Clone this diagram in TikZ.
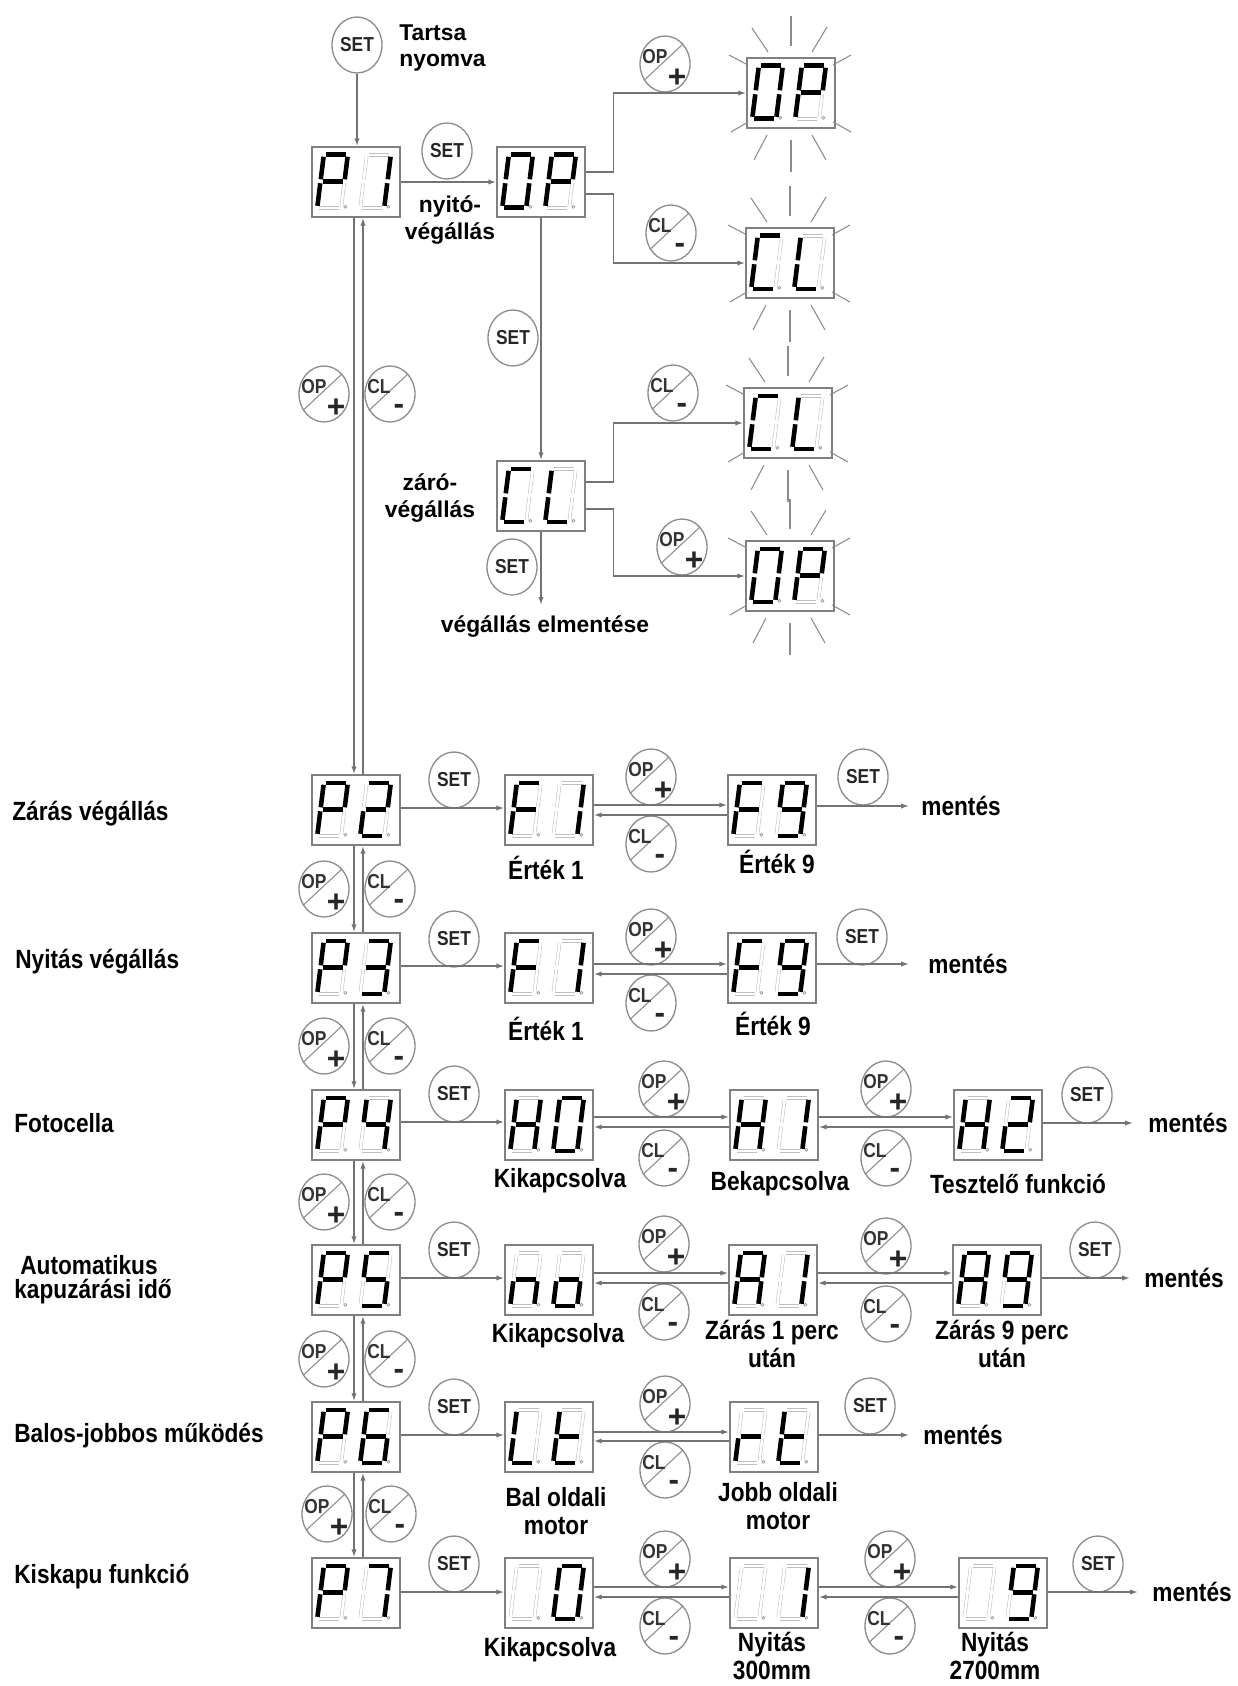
\documentclass[tikz,border=0pt]{standalone}
\usepackage{fontspec}
\setmainfont{Liberation Sans}
\newfontfamily\condfont{Liberation Sans}[FakeStretch=0.86]
\usetikzlibrary{shapes.geometric,arrows.meta,calc}

\def\sgpa{2/53/22/53}
\def\sgpb{24/51/24/28.5}
\def\sgpc{24/24.5/24/2}
\def\sgpd{2/0/22/0}
\def\sgpe{0/2/0/24.5}
\def\sgpf{0/28.5/0/51}
\def\sgpg{2/26.5/22/26.5}
\def\drawsegon#1/#2/#3/#4\relax{\draw[segonst] (#1,#2) -- (#3,#4);}
\def\drawsegoff#1/#2/#3/#4\relax{\draw[segoffst] (#1,#2) -- (#3,#4);}
\newcommand\sdig[2]{%
  \begin{scope}[shift={(#1,10)},xslant=0.125]
    \foreach \s in {a,b,c,d,e,f,g}{\edef\tmpseg{\csname sgp\s\endcsname}\expandafter\drawsegoff\tmpseg\relax}%
    \def\tmplist{#2}%
    \ifx\tmplist\empty\else
      \foreach \s in {#2}{\edef\tmpseg{\csname sgp\s\endcsname}\expandafter\drawsegon\tmpseg\relax}%
    \fi
    \draw[dotst] (28,1) circle (1.5);
  \end{scope}}
\newcommand\twodig[3]{%
  \begin{scope}[shift={(#1.south west)},x=0.02cm,y=0.02cm]
    \sdig{6}{#2}\sdig{49}{#3}
  \end{scope}}
\newcommand\rays[1]{%
  \begin{scope}[shift={(#1.center)}]
    \foreach \ra/\rb/\rc/\rd in {0/-77/0/-47, -39/-65/-23/-41, 36/-66/21/-41, -62/-38/-43/-28, 60/-38/42/-28, -60/39/-43/29, 60/39/42/29, -37/67/-24/42, 35/67/21/42, 0/47/0/79}{\draw[ray] (\ra,\rb) -- (\rc,\rd);}
  \end{scope}}
\newcommand\opbtn[3]{%
  \node[btn] (#1) at (#2,#3) {};
  \draw[btnline] (#1.218) -- (#1.48);
  \node[optxt] (#1-t) at ($(#1.center)+(-10,-7)$) {OP};
  \node[signtxt] (#1-s) at ($(#1.center)+(12,14)$) {+};}
\newcommand\clbtn[3]{%
  \node[btn] (#1) at (#2,#3) {};
  \draw[btnline] (#1.218) -- (#1.48);
  \node[optxt] (#1-t) at ($(#1.center)+(-11,-7)$) {CL};
  \node[signtxt] (#1-s) at ($(#1.center)+(9,15)$) {-};}

\begin{document}
\begin{tikzpicture}[x=0.02cm,y=-0.02cm,
  conn/.style={draw=black!55, line width=0.8pt},
  arr/.style={conn, -{Latex[length=4.5pt,width=3pt]}},
  dispbox/.style={draw=black!50, line width=0.9pt, minimum width=1.76cm, minimum height=1.4cm, inner sep=0pt},
  btn/.style={ellipse, draw=black!45, line width=0.75pt, minimum width=1.0cm, minimum height=1.12cm, inner sep=0pt},
  setbtn/.style={btn, font=\condfont\bfseries\fontsize{11.5}{11.5}\selectfont, text=black!85},
  btnline/.style={draw=black!45, line width=0.6pt},
  optxt/.style={inner sep=0pt, font=\condfont\bfseries\fontsize{11.5}{11.5}\selectfont, text=black!80},
  signtxt/.style={inner sep=0pt, font=\bfseries\fontsize{18}{18}\selectfont, text=black!85},
  lbl/.style={font=\condfont\bfseries\fontsize{15}{16}\selectfont, inner sep=0pt, align=center},
  toplbl/.style={font=\bfseries\fontsize{13}{15}\selectfont, inner sep=0pt, align=center},
  segoffst/.style={draw=black!25, line width=0.3pt, double=white, double distance=1.4pt},
  segonst/.style={draw=black, line width=2.6pt},
  dotst/.style={draw=black!40, line width=0.4pt},
  ray/.style={draw=black!45, line width=0.6pt}]
\fill[white] (0,0) rectangle (1237,1686);
\useasboundingbox (0,0) rectangle (1237,1686);

% ---------- top part ----------
\node[setbtn] (settop) at (357,45) {SET};
\node[toplbl, anchor=west, align=left] (tartsa) at (399,48) {Tartsa\\nyomva};
\node[dispbox] (p1) at (356,182) {};
\node[setbtn] (set1) at (447,151) {SET};
\node[toplbl] (nyito) at (450,220) {nyitó-\\végállás};
\node[dispbox] (op) at (541,182) {};
\opbtn{opplus1}{665}{64}
\node[dispbox] (opf1) at (791,93) {};
\clbtn{clminus1}{671}{233}
\node[dispbox] (clf1) at (790,263) {};
\node[setbtn] (set2) at (513,338) {SET};
\node[dispbox] (cl) at (541,496) {};
\node[toplbl] (zaro) at (430,498) {záró-\\végállás};
\clbtn{clminus2}{673}{393}
\node[dispbox] (clf2) at (788,423) {};
\opbtn{opplus2}{682}{547}
\node[dispbox] (opf2) at (790,576) {};
\node[setbtn] (set3) at (512,567) {SET};
\node[toplbl] (elment) at (545,627) {végállás elmentése};
\coordinate (elmend) at (541,605);

\twodig{p1}{a,b,e,f,g}{b,c}
\twodig{op}{a,b,c,d,e,f}{a,b,e,f,g}
\twodig{opf1}{a,b,c,d,e,f}{a,b,e,f,g}
\twodig{clf1}{a,d,e,f}{d,e,f}
\twodig{cl}{a,d,e,f}{d,e,f}
\twodig{clf2}{a,d,e,f}{d,e,f}
\twodig{opf2}{a,b,c,d,e,f}{a,b,e,f,g}
\rays{opf1}\rays{clf1}\rays{clf2}\rays{opf2}

\draw[arr] (settop.south) -- (settop.south |- p1.north);
\draw[arr] (p1.east) -- (op.west);
\draw[arr] ($(op.east)+(0,-10)$) -- ++(28,0) |- (opf1.west);
\draw[arr] ($(op.east)+(0,12)$) -- ++(28,0) |- (clf1.west);
\draw[arr] (op.south) -- (cl.north);
\draw[arr] ($(cl.east)+(0,-14)$) -- ++(28,0) |- (clf2.west);
\draw[arr] ($(cl.east)+(0,13)$) -- ++(28,0) |- (opf2.west);
\draw[arr] (cl.south) -- (elmend);

% ---------- left column ----------
\node[dispbox] (p2) at (356,810) {};
\node[dispbox] (p3) at (356,968) {};
\node[dispbox] (p4) at (356,1125) {};
\node[dispbox] (p5) at (356,1280) {};
\node[dispbox] (p6) at (356,1437) {};
\node[dispbox] (p7) at (356,1593) {};
\twodig{p2}{a,b,e,f,g}{a,b,g,e,d}
\twodig{p3}{a,b,e,f,g}{a,b,g,c,d}
\twodig{p4}{a,b,e,f,g}{f,g,b,c}
\twodig{p5}{a,b,e,f,g}{a,f,g,c,d}
\twodig{p6}{a,b,e,f,g}{a,f,g,e,d,c}
\twodig{p7}{a,b,e,f,g}{a,b,c}

\opbtn{opv1}{324}{394}\clbtn{clv1}{390}{394}
\opbtn{opv2}{324}{889}\clbtn{clv2}{390}{889}
\opbtn{opv3}{324}{1046}\clbtn{clv3}{390}{1046}
\opbtn{opv4}{324}{1202}\clbtn{clv4}{390}{1202}
\opbtn{opv5}{324}{1359}\clbtn{clv5}{390}{1359}
\opbtn{opv6}{327}{1514}\clbtn{clv6}{391}{1514}

\foreach \pa/\pb in {p1/p2,p2/p3,p3/p4,p4/p5,p5/p6,p6/p7}{
  \draw[arr] ($(\pa.south)+(-2,0)$) -- ($(\pb.north)+(-2,0)$);
  \draw[arr] ($(\pb.north)+(7,0)$) -- ($(\pa.south)+(7,0)$);
}

\node[lbl, anchor=west] (lzaras) at (12,814) {Zárás végállás};
\node[lbl, anchor=west] (lnyitas) at (15,962) {Nyitás végállás};
\node[lbl, anchor=west] (lfoto) at (14,1123) {Fotocella};
\node[lbl, anchor=west] (lauto1) at (20,1265) {Automatikus};
\node[lbl, anchor=west] (lauto2) at (14,1292) {kapuzárási idő};
\node[lbl, anchor=west] (lbalos) at (14,1436) {Balos-jobbos működés};
\node[lbl, anchor=west] (lkis) at (14,1577) {Kiskapu funkció};

% ---------- row P2 ----------
\node[setbtn] (setp2) at (454,780) {SET};
\node[dispbox] (f1a) at (549,810) {};
\node[lbl] (ert1a) at (546,868) {Érték 1};
\opbtn{opr2}{651}{777}\clbtn{clr2}{651}{844}
\node[dispbox] (f9a) at (772,810) {};
\node[lbl] (ert9a) at (777,862) {Érték 9};
\node[setbtn] (sete2) at (863,777) {SET};
\node[lbl, anchor=west] (ment2) at (921,806) {mentés};
\twodig{f1a}{a,e,f,g}{b,c}
\twodig{f9a}{a,e,f,g}{a,b,c,d,f,g}
\draw[arr] ($(p2.east)+(0,-2)$) -- ($(f1a.west)+(0,-2)$);
\draw[arr] ($(f1a.east)+(0,-5)$) -- ($(f9a.west)+(0,-5)$);
\draw[arr] ($(f9a.west)+(0,5)$) -- ($(f1a.east)+(0,5)$);
\draw[arr] ($(f9a.east)+(0,-4)$) -- ($(ment2.west)+(-12,0)$);

% ---------- row P3 ----------
\node[setbtn] (setp3) at (454,939) {SET};
\node[dispbox] (f1b) at (549,968) {};
\node[lbl] (ert1b) at (546,1029) {Érték 1};
\opbtn{opr3}{651}{937}\clbtn{clr3}{651}{1003}
\node[dispbox] (f9b) at (772,968) {};
\node[lbl] (ert9b) at (773,1024) {Érték 9};
\node[setbtn] (sete3) at (862,937) {SET};
\node[lbl, anchor=west] (ment3) at (928,964) {mentés};
\twodig{f1b}{a,e,f,g}{b,c}
\twodig{f9b}{a,e,f,g}{a,b,c,d,f,g}
\draw[arr] ($(p3.east)+(0,-2)$) -- ($(f1b.west)+(0,-2)$);
\draw[arr] ($(f1b.east)+(0,-4)$) -- ($(f9b.west)+(0,-4)$);
\draw[arr] ($(f9b.west)+(0,6)$) -- ($(f1b.east)+(0,6)$);
\draw[arr] ($(f9b.east)+(0,-4)$) -- ($(ment3.west)+(-19,0)$);

% ---------- row P4 ----------
\node[setbtn] (setp4) at (454,1094) {SET};
\node[dispbox] (h0) at (549,1125) {};
\node[lbl] (kik1) at (560,1181) {Kikapcsolva};
\opbtn{opr4a}{664}{1089}\clbtn{clr4a}{664}{1158}
\node[dispbox] (h1) at (774,1125) {};
\node[lbl] (bek) at (780,1184) {Bekapcsolva};
\opbtn{opr4b}{886}{1089}\clbtn{clr4b}{886}{1158}
\node[dispbox] (h2) at (998,1125) {};
\node[lbl] (teszt) at (1018,1184) {Tesztelő funkció};
\node[setbtn] (sete4) at (1087,1095) {SET};
\node[lbl, anchor=west] (ment4) at (1148,1123) {mentés};
\twodig{h0}{b,c,e,f,g}{a,b,c,d,e,f}
\twodig{h1}{b,c,e,f,g}{b,c}
\twodig{h2}{b,c,e,f,g}{a,b,g,e,d}
\draw[arr] ($(p4.east)+(0,-3)$) -- ($(h0.west)+(0,-3)$);
\draw[arr] ($(h0.east)+(0,-8)$) -- ($(h1.west)+(0,-8)$);
\draw[arr] ($(h1.west)+(0,2)$) -- ($(h0.east)+(0,2)$);
\draw[arr] ($(h1.east)+(0,-8)$) -- ($(h2.west)+(0,-8)$);
\draw[arr] ($(h2.west)+(0,2)$) -- ($(h1.east)+(0,2)$);
\draw[arr] ($(h2.east)+(0,-2)$) -- ($(ment4.west)+(-15,0)$);

% ---------- row P5 ----------
\node[setbtn] (setp5) at (454,1250) {SET};
\node[dispbox] (no) at (549,1280) {};
\node[lbl] (kik2) at (558,1336) {Kikapcsolva};
\opbtn{opr5a}{664}{1244}\clbtn{clr5a}{664}{1312}
\node[dispbox] (a1) at (773,1280) {};
\node[lbl] (zar1) at (772,1344) {Zárás 1 perc\\után};
\opbtn{opr5b}{886}{1246}\clbtn{clr5b}{886}{1314}
\node[dispbox] (a9) at (997,1280) {};
\node[lbl] (zar9) at (1002,1344) {Zárás 9 perc\\után};
\node[setbtn] (sete5) at (1095,1250) {SET};
\node[lbl, anchor=west] (ment5) at (1144,1278) {mentés};
\twodig{no}{c,e,g}{c,d,e,g}
\twodig{a1}{a,b,c,e,f,g}{b,c}
\twodig{a9}{a,b,c,e,f,g}{a,b,c,d,f,g}
\draw[arr] ($(p5.east)+(0,-2)$) -- ($(no.west)+(0,-2)$);
\draw[arr] ($(no.east)+(0,-7)$) -- ($(a1.west)+(0,-7)$);
\draw[arr] ($(a1.west)+(0,3)$) -- ($(no.east)+(0,3)$);
\draw[arr] ($(a1.east)+(0,-7)$) -- ($(a9.west)+(0,-7)$);
\draw[arr] ($(a9.west)+(0,3)$) -- ($(a1.east)+(0,3)$);
\draw[arr] ($(a9.east)+(0,-2)$) -- ($(ment5.west)+(-14,0)$);

% ---------- row P6 ----------
\node[setbtn] (setp6) at (454,1407) {SET};
\node[dispbox] (lt) at (549,1437) {};
\node[lbl] (bal) at (556,1511) {Bal oldali\\motor};
\opbtn{opr6}{665}{1404}\clbtn{clr6}{665}{1470}
\node[dispbox] (rt) at (774,1437) {};
\node[lbl] (jobb) at (778,1506) {Jobb oldali\\motor};
\node[setbtn] (sete6) at (870,1406) {SET};
\node[lbl, anchor=west] (ment6) at (923,1435) {mentés};
\twodig{lt}{d,e,f}{d,e,f,g}
\twodig{rt}{e,g}{d,e,f,g}
\draw[arr] ($(p6.east)+(0,-2)$) -- ($(lt.west)+(0,-2)$);
\draw[arr] ($(lt.east)+(0,-5)$) -- ($(rt.west)+(0,-5)$);
\draw[arr] ($(rt.west)+(0,4)$) -- ($(lt.east)+(0,4)$);
\draw[arr] ($(rt.east)+(0,-2)$) -- ($(ment6.west)+(-14,0)$);

% ---------- row P7 ----------
\node[setbtn] (setp7) at (454,1564) {SET};
\node[dispbox] (z0) at (549,1593) {};
\node[lbl] (kik3) at (550,1650) {Kikapcsolva};
\opbtn{opr7a}{665}{1559}\clbtn{clr7a}{665}{1626}
\node[dispbox] (z1) at (774,1593) {};
\node[lbl] (ny300) at (772,1656) {Nyitás\\300mm};
\opbtn{opr7b}{890}{1559}\clbtn{clr7b}{890}{1626}
\node[dispbox] (z9) at (1003,1593) {};
\node[lbl] (ny2700) at (995,1656) {Nyitás\\2700mm};
\node[setbtn] (sete7) at (1098,1564) {SET};
\node[lbl, anchor=west] (ment7) at (1152,1592) {mentés};
\twodig{z0}{}{a,b,c,d,e,f}
\twodig{z1}{}{b,c}
\twodig{z9}{}{a,b,c,d,f,g}
\draw[arr] ($(p7.east)+(0,-1)$) -- ($(z0.west)+(0,-1)$);
\draw[arr] ($(z0.east)+(0,-6)$) -- ($(z1.west)+(0,-6)$);
\draw[arr] ($(z1.west)+(0,4)$) -- ($(z0.east)+(0,4)$);
\draw[arr] ($(z1.east)+(0,-6)$) -- ($(z9.west)+(0,-6)$);
\draw[arr] ($(z9.west)+(0,4)$) -- ($(z1.east)+(0,4)$);
\draw[arr] ($(z9.east)+(0,-1)$) -- ($(ment7.west)+(-14,0)$);
\end{tikzpicture}
\end{document}
